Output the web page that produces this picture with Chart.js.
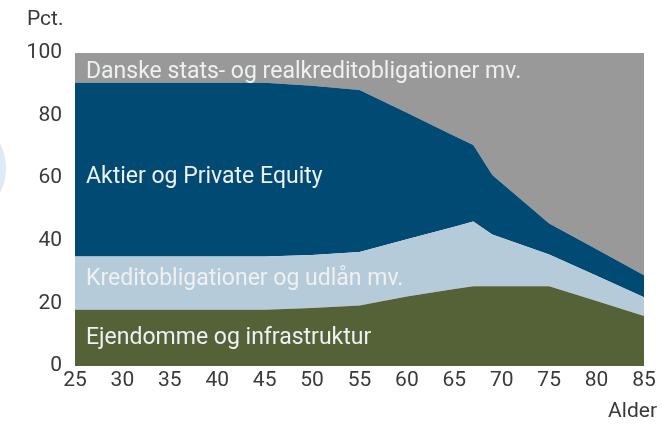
<!DOCTYPE html>
<html>
<head>
<meta charset="utf-8">
<script src="https://cdn.jsdelivr.net/npm/chart.js@4"></script>
<style>
  html, body { margin: 0; padding: 0; background: #ffffff; overflow: hidden; }
  #wrap { position: relative; width: 662px; height: 424px; }
  #deco { position: absolute; left: -104px; top: 113px; width: 110px; height: 110px; border-radius: 50%; background: #dde9f3; }
  canvas { position: absolute; left: 0; top: 0; }
</style>
</head>
<body>
<div id="wrap">
  <div id="deco"></div>
  <canvas id="c" width="662" height="424"></canvas>
</div>
<script>
// Age (x values)
const ages = [25, 45, 50, 55, 60, 65, 67, 69, 75, 80, 85];
// Shares in pct. for each asset class (stacked from bottom)
const ejendomme = [18, 18, 18.5, 19.3, 22.2, 24.6, 25.5, 25.5, 25.5, 20.8, 16];
const kredit    = [17, 17, 17, 17.1, 18.3, 19.9, 20.7, 16.5, 10.1, 8, 6];
const aktier    = [55.5, 55.5, 54, 51.8, 40.4, 29, 24.4, 19, 9.9, 8.5, 7];
const danske    = [9.5, 9.5, 10.5, 11.8, 19.1, 26.5, 29.4, 39, 54.5, 62.7, 71];

const seriesNames = [
  'Ejendomme og infrastruktur',
  'Kreditobligationer og udlån mv.',
  'Aktier og Private Equity',
  'Danske stats- og realkreditobligationer mv.'
];
const labelValues = [7.1, 26.0, 58.5, 91.9];
const xTicks = [25, 30, 35, 40, 45, 50, 55, 60, 65, 70, 75, 80, 85];
const yTicks = [0, 20, 40, 60, 80, 100];
const yUnit = 'Pct.';
const xUnit = 'Alder';

const colors = ['#556137', '#b5cbd9', '#004a74', '#999999'];
const seriesValues = [ejendomme, kredit, aktier, danske];

const FONT = 'Roboto, "DejaVu Sans", sans-serif';

const datasets = seriesValues.map((vals, i) => ({
  label: seriesNames[i],
  data: ages.map((a, j) => ({ x: a, y: vals[j] })),
  backgroundColor: colors[i],
  borderColor: colors[i],
  borderWidth: 0,
  pointRadius: 0,
  fill: i === 0 ? 'origin' : '-1',
  tension: 0
}));

const textPlugin = {
  id: 'texts',
  afterDatasetsDraw(chart) {
    const ctx = chart.ctx;
    const xs = chart.scales.x, ys = chart.scales.y;
    ctx.save();
    ctx.font = '23px ' + FONT;
    ctx.fillStyle = '#eef0f2';
    ctx.textAlign = 'left';
    ctx.textBaseline = 'alphabetic';
    seriesNames.forEach((n, i) => {
      ctx.fillText(n, xs.getPixelForValue(ages[0]) + 11, ys.getPixelForValue(labelValues[i]));
    });
    ctx.fillStyle = '#3a3a3a';
    ctx.font = '21px ' + FONT;
    ctx.textBaseline = 'middle';
    ctx.textAlign = 'left';
    ctx.fillText(yUnit, 27, 20);
    ctx.textAlign = 'right';
    ctx.fillText(xUnit, 657, 412);
    ctx.restore();
  }
};

new Chart(document.getElementById('c'), {
  type: 'line',
  data: { datasets },
  plugins: [textPlugin],
  options: {
    responsive: false,
    animation: false,
    layout: { padding: { left: 0, right: 18, top: 53, bottom: 0 } },
    plugins: { legend: { display: false }, tooltip: { enabled: false } },
    elements: { line: { borderWidth: 0 } },
    scales: {
      x: {
        type: 'linear',
        min: 25, max: 85,
        border: { display: false },
        grid: { display: false, drawTicks: false },
        afterBuildTicks(s) { s.ticks = xTicks.map(v => ({ value: v })); },
        afterFit(s) { s.height = 58; },
        ticks: { color: '#3a3a3a', font: { family: FONT, size: 21 }, padding: 2, maxRotation: 0, autoSkip: false }
      },
      y: {
        stacked: true,
        min: 0, max: 100,
        border: { display: false },
        grid: { display: false, drawTicks: false },
        afterBuildTicks(s) { s.ticks = yTicks.map(v => ({ value: v })); },
        afterFit(s) { s.width = 75; },
        ticks: { color: '#3a3a3a', font: { family: FONT, size: 21 }, padding: 13 }
      }
    }
  }
});
</script>
</body>
</html>
